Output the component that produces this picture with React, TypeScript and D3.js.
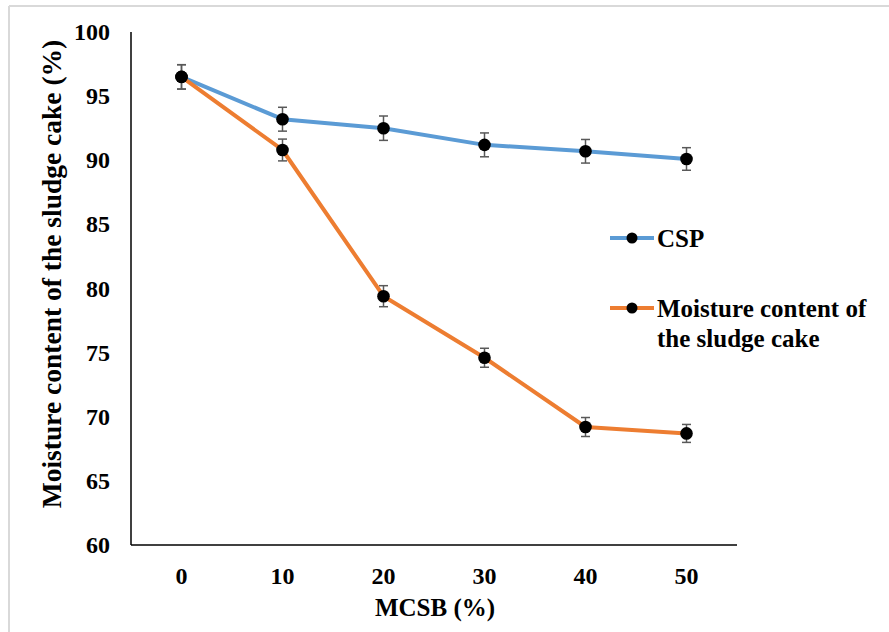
import React from "react";
import * as d3 from "d3";

// MCSB dosage categories (%)
const categories = ["0", "10", "20", "30", "40", "50"];
// Capillary suction performance series
const cspValues = [96.5, 93.2, 92.5, 91.2, 90.7, 90.1];
const cspErrors = [0.95, 0.93, 0.95, 0.93, 0.92, 0.88];
// Moisture content of the sludge cake series
const moistureValues = [96.5, 90.8, 79.4, 74.6, 69.2, 68.7];
const moistureErrors = [0.95, 0.85, 0.82, 0.74, 0.74, 0.7];
const yTicks = [60, 65, 70, 75, 80, 85, 90, 95, 100];

const W = 889;
const H = 632;
const plot = { left: 131, right: 737, top: 32, bottom: 545 };
const FONT = "'Liberation Serif', 'Times New Roman', serif";

export default function App() {
  const x = d3
    .scaleBand<string>()
    .domain(categories)
    .range([plot.left, plot.right]);
  const y = d3.scaleLinear().domain([60, 100]).range([plot.bottom, plot.top]);
  const cx = (c: string) => (x(c) as number) + x.bandwidth() / 2;

  const line = d3
    .line<number>()
    .x((_, i) => cx(categories[i]))
    .y((v) => y(v));

  const series = [
    { name: "CSP", values: cspValues, errors: cspErrors, color: "#5B9BD5" },
    {
      name: "Moisture",
      values: moistureValues,
      errors: moistureErrors,
      color: "#ED7D31",
    },
  ];

  return (
    <div style={{ position: "fixed", left: 0, top: 0 }}>
      <svg width={W} height={H} style={{ display: "block", background: "#fff" }}>
        {/* frame */}
        <line x1={9} y1={6} x2={W} y2={6} stroke="#d9d9d9" strokeWidth={2} />
        <line x1={9} y1={6} x2={9} y2={H} stroke="#d9d9d9" strokeWidth={2} />

        {/* axes */}
        <line
          x1={plot.left}
          y1={plot.top}
          x2={plot.left}
          y2={plot.bottom}
          stroke="#000"
          strokeWidth={1.5}
        />
        <line
          x1={plot.left}
          y1={plot.bottom}
          x2={plot.right}
          y2={plot.bottom}
          stroke="#000"
          strokeWidth={1.5}
        />

        {yTicks.map((t) => (
          <text
            key={t}
            x={110}
            y={y(t)}
            textAnchor="end"
            dominantBaseline="central"
            fontFamily={FONT}
            fontWeight="bold"
            fontSize={24}
          >
            {t}
          </text>
        ))}
        {categories.map((c) => (
          <text
            key={c}
            x={cx(c)}
            y={576}
            textAnchor="middle"
            dominantBaseline="central"
            fontFamily={FONT}
            fontWeight="bold"
            fontSize={24}
          >
            {c}
          </text>
        ))}

        <text
          x={435}
          y={607}
          textAnchor="middle"
          dominantBaseline="central"
          fontFamily={FONT}
          fontWeight="bold"
          fontSize={25}
        >
          MCSB (%)
        </text>
        <text
          transform={`translate(51, 274) rotate(-90)`}
          textAnchor="middle"
          dominantBaseline="central"
          fontFamily={FONT}
          fontWeight="bold"
          fontSize={27.5}
        >
          Moisture content of the sludge cake (%)
        </text>

        {series.map((s) => (
          <g key={s.name}>
            <path
              d={line(s.values) || ""}
              fill="none"
              stroke={s.color}
              strokeWidth={4}
              strokeLinejoin="round"
            />
          </g>
        ))}
        {series.map((s) => (
          <g key={s.name + "-pts"}>
            {s.values.map((v, i) => {
              const px = cx(categories[i]);
              const y1 = y(v + s.errors[i]);
              const y2 = y(v - s.errors[i]);
              return (
                <g key={i}>
                  <line x1={px} x2={px} y1={y1} y2={y2} stroke="#595959" strokeWidth={1.5} />
                  <line x1={px - 4.5} x2={px + 4.5} y1={y1} y2={y1} stroke="#595959" strokeWidth={1.5} />
                  <line x1={px - 4.5} x2={px + 4.5} y1={y2} y2={y2} stroke="#595959" strokeWidth={1.5} />
                  <circle cx={px} cy={y(v)} r={6.3} fill="#000" />
                </g>
              );
            })}
          </g>
        ))}

        {/* legend */}
        <g>
          <line x1={610} x2={654} y1={238} y2={238} stroke="#5B9BD5" strokeWidth={4} />
          <circle cx={632} cy={238} r={5.5} fill="#000" />
          <text
            x={657}
            y={238}
            dominantBaseline="central"
            fontFamily={FONT}
            fontWeight="bold"
            fontSize={25}
          >
            CSP
          </text>
          <line x1={610} x2={654} y1={308} y2={308} stroke="#ED7D31" strokeWidth={4} />
          <circle cx={632} cy={308} r={5.5} fill="#000" />
          <text
            x={657}
            y={308}
            dominantBaseline="central"
            fontFamily={FONT}
            fontWeight="bold"
            fontSize={25}
          >
            Moisture content of
          </text>
          <text
            x={657}
            y={338}
            dominantBaseline="central"
            fontFamily={FONT}
            fontWeight="bold"
            fontSize={25}
          >
            the sludge cake
          </text>
        </g>
      </svg>
    </div>
  );
}
